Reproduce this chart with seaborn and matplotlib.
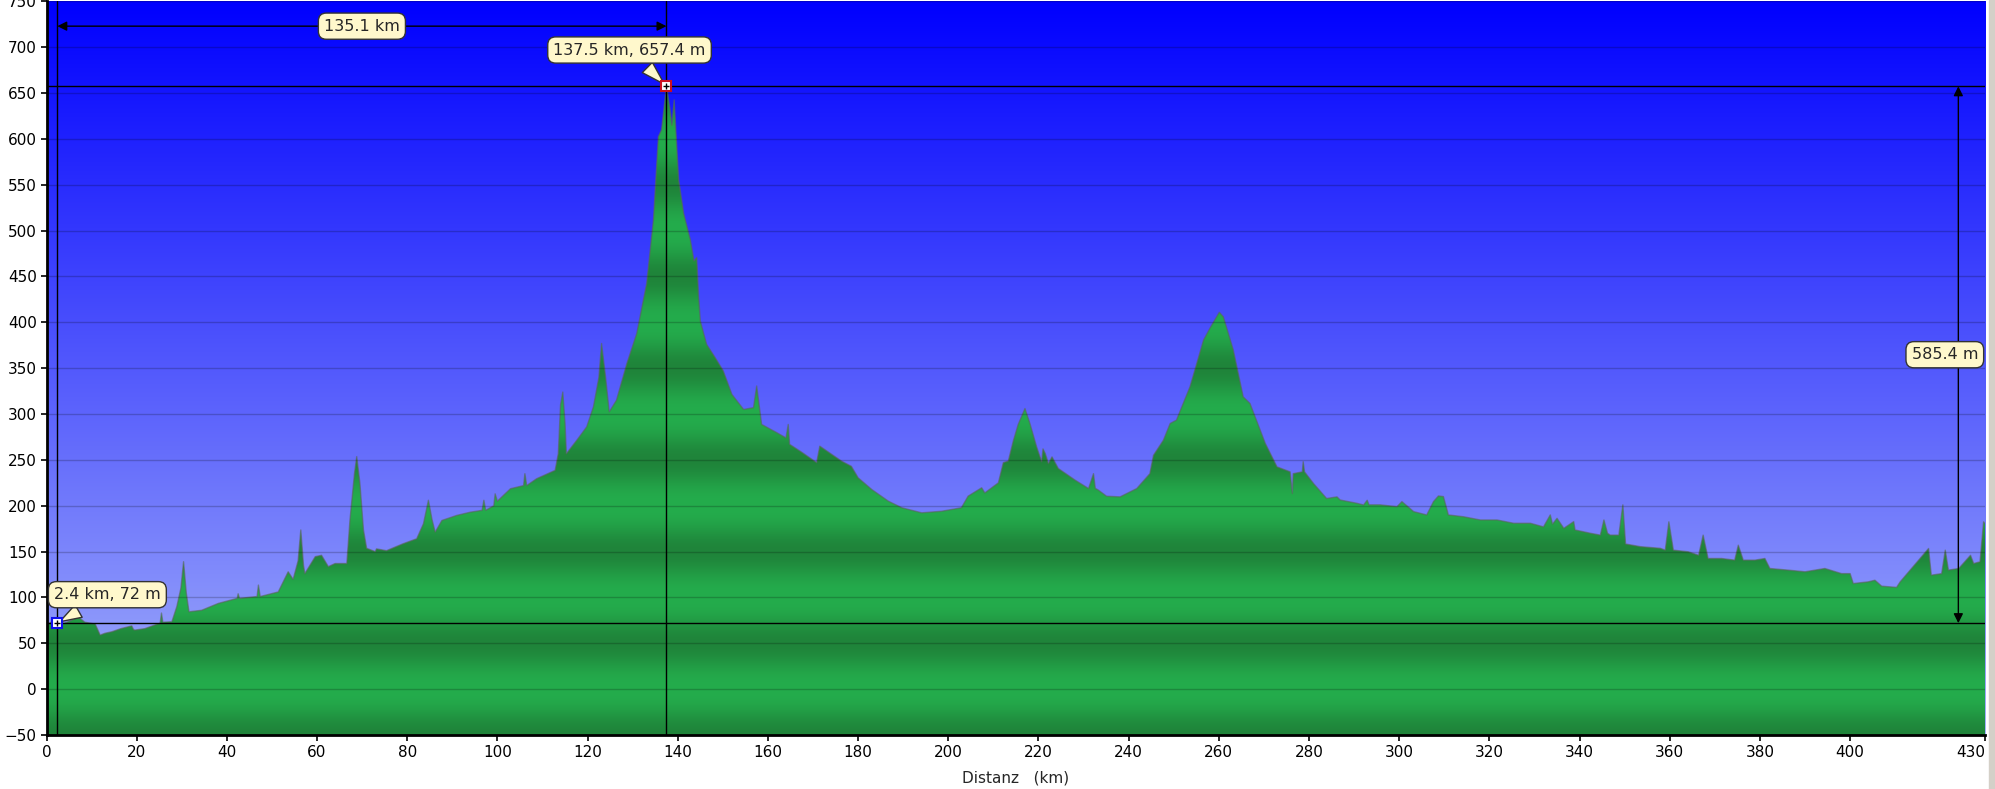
import numpy as np
import matplotlib
matplotlib.use("Agg")
import matplotlib.pyplot as plt
import seaborn as sns
from matplotlib.patches import Rectangle

# ---- data (km, elevation m) ----
km = [0.0, 1.0, 2.4, 4.0, 5.5, 7.1, 8.5, 10.8, 11.9, 13.0, 14.5, 16.5, 18.9, 19.3, 19.6, 21.8,
      23.5, 25.2, 25.5, 25.8, 27.8, 28.9, 29.8, 30.4, 31.0, 31.6, 34.4, 38.1, 42.3, 42.5, 42.8,
      46.7, 47.0, 47.4, 51.4, 53.6, 54.7, 55.8, 56.4, 57.0, 57.3, 59.6, 61.0, 62.5, 64.0, 66.6,
      67.3, 68.3, 68.8, 69.5, 70.3, 71.0, 72.9, 73.2, 75.4, 79.1, 82.1, 83.6, 84.7, 85.5, 86.2,
      87.7, 91.0, 94.0, 96.6, 97.0, 97.4, 99.2, 99.5, 100.0, 102.9, 105.8, 106.1, 106.5, 108.7,
      112.8, 113.5, 114.0, 114.5, 115.0, 115.3, 117.6, 119.8, 121.3, 122.5, 123.1, 124.0, 124.8,
      126.4, 128.7, 130.9, 133.1, 134.6, 135.7, 136.4, 137.5, 138.3, 138.7, 139.2, 140.2, 141.3,
      142.8, 143.6, 144.2, 144.6, 145.0, 146.4, 148.3, 150.1, 152.0, 154.6, 156.8, 157.5, 158.6,
      162.0, 164.0, 164.5, 164.8, 167.6, 170.8, 171.5, 176.3, 178.5, 180.0, 183.0, 186.7, 189.7,
      194.1, 198.5, 202.9, 204.4, 207.4, 208.1, 211.1, 212.2, 213.3, 214.4, 215.5, 217.0, 218.1,
      219.6, 220.7, 221.0, 221.5, 222.2, 223.0, 224.4, 228.1, 231.1, 232.2, 232.6, 233.3, 235.1,
      238.1, 241.8, 244.7, 245.5, 247.7, 249.2, 250.6, 253.6, 256.6, 258.0, 260.1, 261.0, 263.2,
      265.4, 266.9, 270.3, 272.9, 275.8, 276.3, 276.5, 278.5, 278.7, 279.0, 281.0, 283.9, 286.2,
      286.9, 290.6, 292.1, 292.9, 293.3, 295.8, 299.5, 300.6, 303.2, 306.1, 307.6, 308.7, 309.8,
      310.9, 314.3, 318.0, 321.7, 325.4, 329.1, 332.0, 333.5, 334.0, 335.0, 336.5, 338.7, 339.0,
      342.4, 344.6, 345.4, 346.2, 346.8, 348.7, 349.6, 350.2, 353.5, 357.9, 359.0, 359.8, 360.8,
      364.1, 366.4, 367.4, 368.5, 371.5, 374.4, 375.2, 376.3, 378.9, 381.1, 382.2, 386.3, 390.0,
      394.4, 398.1, 400.0, 400.7, 404.0, 405.5, 407.0, 410.3, 411.1, 417.4, 418.0, 420.3, 421.1,
      421.8, 424.1, 426.7, 427.4, 428.8, 429.6, 430.0]
elev = [70, 73, 72, 72, 75, 78.6, 73, 71, 59, 61, 62.6, 66, 69, 65, 64.4, 66,
        69, 72, 83, 73, 73.5, 90, 110, 139, 105, 84.4, 86, 93.5, 99, 104, 99,
        101, 113.5, 101, 106, 128, 119.7, 140, 173.6, 135, 126, 144.5, 146, 133.6, 137, 137,
        184.5, 235, 253.6, 225, 173.6, 153.6, 150, 153, 151, 158.6, 164, 180.4, 206, 185, 171.3,
        184, 189.5, 193, 195, 206, 195, 200, 213, 205, 218.6, 222, 235, 222, 229.5,
        238.6, 256.8, 310, 324, 290, 256.8, 271.4, 286, 308, 340, 377, 340, 302.3,
        315, 355, 387.8, 442.4, 511.6, 602.5, 610, 657.4, 631.7, 615, 642.6, 555, 519,
        489.8, 467, 470.7, 430, 401.5, 376, 361.5, 347, 321.5, 305, 307, 330.6, 288.7,
        279.6, 274, 288.7, 267, 258, 247, 265, 248.7, 243, 230.5, 217.8, 205, 197.8,
        192.3, 194, 197.8, 210.5, 219.6, 214, 225, 247, 248.7, 270.5, 288.7, 306, 289.7,
        264, 248, 262, 257, 246, 253.3, 240.6, 228, 218.8, 235, 219, 217, 210.4,
        209.7, 218.8, 235, 255, 271.5, 289.7, 293.4, 329.8, 380.7, 393.4, 411, 406, 370,
        318.8, 311.6, 268, 242.4, 237, 213.3, 235, 237, 248, 237, 224.2, 207.9, 209.7,
        206.3, 202.7, 200.9, 206, 201, 201, 199, 204.5, 193.6, 190, 204.5, 210.7, 210,
        190, 188, 184.5, 184.5, 180.9, 180.9, 177, 190, 180, 186.3, 175.4, 182.7, 173.6,
        170, 168, 184.5, 170, 168, 168, 201, 158.3, 155.4, 153.6, 151.6, 182.5, 151.6,
        149.8, 146, 168, 142.5, 142.5, 140.7, 157, 140.7, 140.7, 142.5, 131.6, 129.8, 128,
        131.6, 126, 126, 115.2, 117, 118.8, 112.3, 111, 117, 153.4, 124.3, 126, 151.6,
        129.8, 131.6, 146, 137, 138.9, 182.5, 180]

x_ticks = [0, 20, 40, 60, 80, 100, 120, 140, 160, 180, 200, 220, 240, 260, 280, 300,
           320, 340, 360, 380, 400, 430]
y_ticks = list(range(-50, 751, 50))

start_km, start_m = 2.4, 72
peak_km, peak_m = 137.5, 657.4
dist_label = "135.1 km"
climb_label = "585.4 m"
start_label = "2.4 km, 72 m"
peak_label = "137.5 km, 657.4 m"

# ---- figure ----
sns.set_theme(style="ticks")
plt.rcParams["font.family"] = ["DejaVu Sans"]
fig = plt.figure(figsize=(19.95, 7.89), dpi=100)
fig.patch.set_facecolor("white")
ax = fig.add_axes([46.5 / 1995, 54 / 789, (1985.4 - 46.5) / 1995, (735 - 1.4) / 789])

XMIN, XMAX, YMIN, YMAX = 0, 430, -50, 750

# background gradient
n = 400
t = np.linspace(0, 1, n)[:, None]
top = np.array([0, 0, 255]) / 255
bot = np.array([165, 178, 250]) / 255
bg = (top + (bot - top) * t).reshape(n, 1, 3)
ax.imshow(bg, extent=(XMIN, XMAX, YMIN, YMAX), aspect="auto", origin="upper",
          interpolation="bilinear", zorder=0)

# green area with periodic banding
poly = ax.fill_between(km, elev, YMIN, color="none", lw=0, zorder=1)
mvals = np.linspace(YMAX, YMIN, 1600)
w = ((1 - np.cos(2 * np.pi * mvals / 100)) / 2) ** 1.3
light = np.array([36, 172, 76]) / 255
dark = np.array([31, 132, 58]) / 255
gr = light[None, :] + (dark - light)[None, :] * w[:, None]
gimg = ax.imshow(gr[:, None, :], extent=(XMIN, XMAX, YMIN, YMAX), aspect="auto",
                 origin="upper", interpolation="bilinear", zorder=1)
gimg.set_clip_path(poly.get_paths()[0], ax.transData)

sns.lineplot(x=km, y=elev, ax=ax, color="#5a665a", alpha=0.6, lw=1.0, zorder=2)

for yv in y_ticks:
    ax.axhline(yv, color="black", alpha=0.2, lw=1, zorder=3)

ax.set_xlim(XMIN, XMAX)
ax.set_ylim(YMIN, YMAX)
ax.set_xticks(x_ticks)
ax.set_yticks(y_ticks)
ax.tick_params(axis="both", direction="out", length=4, width=1.2, labelsize=11,
               colors="black", pad=3)
xl = ax.get_xticklabels()
xl[-1].set_horizontalalignment("right")
for s in ["top", "right"]:
    ax.spines[s].set_visible(False)
for s in ["left", "bottom"]:
    ax.spines[s].set_linewidth(2)
    ax.spines[s].set_color("black")
ax.set_xlabel("Distanz   (km)", fontsize=11, labelpad=8)
ax.set_ylabel("")

# reference lines
for yv in (start_m, peak_m):
    ax.axhline(yv, color="black", lw=1, zorder=5)
for xv in (start_km, peak_km):
    ax.axvline(xv, color="black", lw=1, zorder=5)

# distance arrow
arr_y = 723
ax.annotate("", xy=(start_km, arr_y), xytext=(peak_km, arr_y),
            arrowprops=dict(arrowstyle="<|-|>", color="black", lw=1, mutation_scale=14,
                            shrinkA=0, shrinkB=0), zorder=6)
box = dict(boxstyle="round,pad=0.35,rounding_size=0.5", fc="#fff8cc", ec="#333333", lw=1)
ax.text((start_km + peak_km) / 2, arr_y, dist_label, ha="center", va="center",
        fontsize=11.5, bbox=box, zorder=7)

# climb arrow
arr_x = 424
ax.annotate("", xy=(arr_x, start_m), xytext=(arr_x, peak_m),
            arrowprops=dict(arrowstyle="<|-|>", color="black", lw=1, mutation_scale=14,
                            shrinkA=0, shrinkB=0), zorder=6)
ax.text(421, (start_m + peak_m) / 2, climb_label, ha="center", va="center",
        fontsize=11.5, bbox=box, zorder=7)

# callouts
wedge = dict(arrowstyle="wedge,tail_width=0.9", fc="#fff8cc", ec="#333333", lw=1,
             shrinkA=4, shrinkB=2)
ax.annotate(peak_label, xy=(peak_km, peak_m), xytext=(129.3, 697), ha="center",
            va="center", fontsize=11.5, bbox=box, arrowprops=wedge, zorder=7)
ax.annotate(start_label, xy=(start_km, start_m), xytext=(13.5, 103), ha="center",
            va="center", fontsize=11.5, bbox=box, arrowprops=wedge, zorder=7)

# point markers
ax.plot([start_km], [start_m], marker="s", ms=7, mfc="white", mec="#1010ee", mew=1.5, zorder=8)
ax.plot([start_km], [start_m], marker="+", ms=5, color="black", mew=1, zorder=9)
ax.plot([peak_km], [peak_m], marker="s", ms=7, mfc="white", mec="#cc1020", mew=1.5, zorder=8)
ax.plot([peak_km], [peak_m], marker="+", ms=5, color="black", mew=1, zorder=9)

# grey window edge at right
fig.patches.append(Rectangle((1989 / 1995, 0), 6 / 1995, 1, transform=fig.transFigure,
                             color="#d4d0c8", zorder=10))

fig.savefig("out.png", dpi=100)
